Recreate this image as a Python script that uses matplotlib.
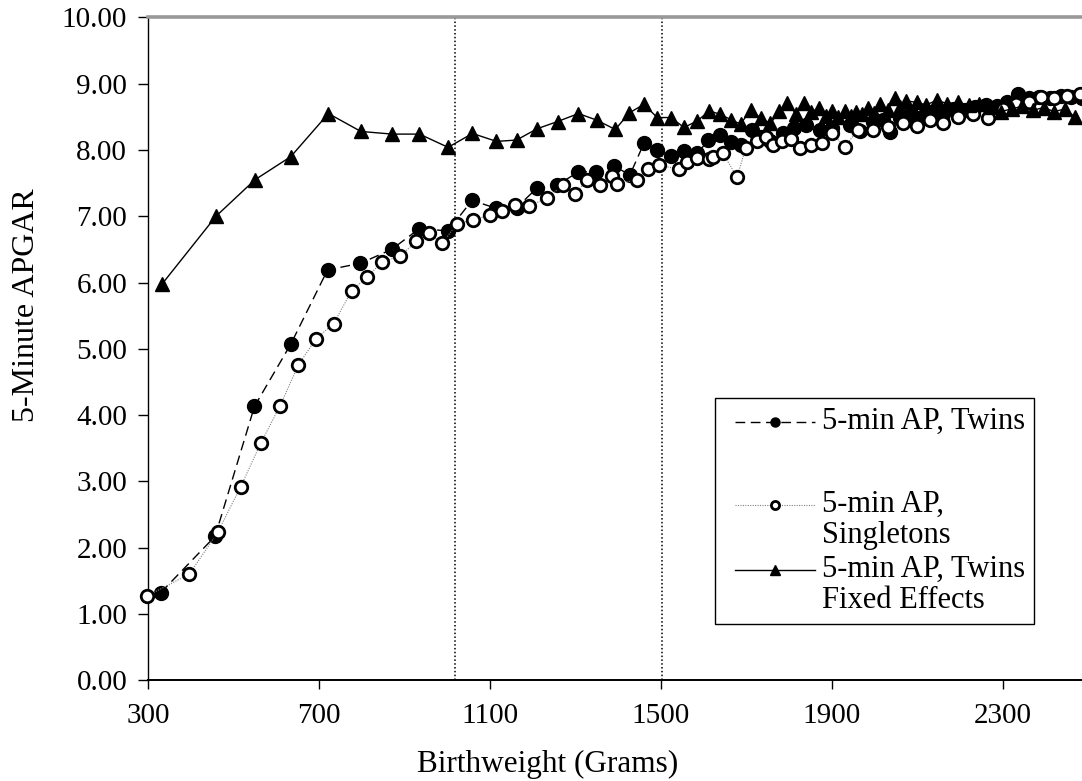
import numpy as np
import matplotlib
matplotlib.use("Agg")
import matplotlib.pyplot as plt
from matplotlib.ticker import FormatStrFormatter
from matplotlib.legend_handler import HandlerLine2D
from matplotlib.transforms import Affine2D

# Birthweight (grams) and mean 5-minute APGAR
twins_weight = [330, 457, 549, 634, 720, 797, 870, 934, 1002, 1058, 1114, 1162, 1209, 1257,
                1307, 1348, 1391, 1427, 1460, 1491, 1523, 1554, 1585, 1611, 1638, 1663, 1688,
                1714, 1735, 1755, 1786, 1810, 1840, 1872, 1900, 1942, 1966, 1997, 2020, 2036,
                2060, 2085, 2110, 2135, 2160, 2185, 2210, 2235, 2260, 2285, 2310, 2335, 2360,
                2385, 2410, 2435, 2460, 2485]
twins_apgar = [1.32, 2.17, 4.13, 5.07, 6.19, 6.29, 6.50, 6.81, 6.78, 7.24, 7.12, 7.13, 7.42, 7.47,
               7.67, 7.67, 7.76, 7.62, 8.10, 8.00, 7.91, 7.99, 7.95, 8.15, 8.23, 8.12, 8.07,
               8.30, 8.20, 8.13, 8.26, 8.33, 8.38, 8.30, 8.33, 8.38, 8.28, 8.42, 8.45, 8.27,
               8.48, 8.55, 8.50, 8.58, 8.55, 8.62, 8.60, 8.65, 8.68, 8.66, 8.72, 8.85, 8.78,
               8.80, 8.78, 8.82, 8.80, 8.78]

single_weight = [298, 397, 463, 517, 564, 609, 652, 693, 734, 776, 813, 848, 889, 928, 958, 988,
                 1023, 1060, 1099, 1129, 1159, 1192, 1233, 1270, 1299, 1326, 1357, 1385, 1398,
                 1444, 1470, 1496, 1543, 1560, 1585, 1613, 1622, 1644, 1678, 1698, 1724, 1745,
                 1763, 1784, 1805, 1824, 1850, 1876, 1900, 1930, 1960, 1995, 2030, 2065, 2098,
                 2130, 2160, 2195, 2230, 2266, 2300, 2330, 2360, 2390, 2420, 2450, 2480]
single_apgar = [1.27, 1.60, 2.23, 2.92, 3.58, 4.14, 4.76, 5.15, 5.38, 5.87, 6.09, 6.31, 6.40, 6.62,
                6.74, 6.59, 6.89, 6.94, 7.02, 7.08, 7.17, 7.16, 7.27, 7.47, 7.33, 7.55, 7.47, 7.60,
                7.49, 7.55, 7.71, 7.77, 7.71, 7.82, 7.88, 7.87, 7.89, 7.96, 7.59, 8.03, 8.14, 8.20,
                8.08, 8.14, 8.17, 8.03, 8.08, 8.11, 8.25, 8.05, 8.30, 8.30, 8.35, 8.40, 8.36,
                8.45, 8.41, 8.50, 8.55, 8.48, 8.62, 8.70, 8.72, 8.80, 8.78, 8.82, 8.85]

fe_weight = [332, 459, 550, 634, 722, 798, 871, 935, 1002, 1059, 1115, 1162, 1210, 1258, 1307,
             1350, 1393, 1426, 1460, 1491, 1523, 1554, 1585, 1613, 1638, 1663, 1686, 1710, 1733,
             1756, 1777, 1795, 1815, 1834, 1852, 1870, 1885, 1899, 1915, 1930, 1945, 1957, 1970,
             1984, 1998, 2012, 2030, 2047, 2060, 2074, 2098, 2120, 2145, 2170, 2195, 2220, 2245,
             2270, 2295, 2320, 2345, 2370, 2395, 2420, 2445, 2468]
fe_apgar = [5.97, 7.00, 7.55, 7.90, 8.55, 8.28, 8.24, 8.24, 8.04, 8.25, 8.13, 8.15, 8.32, 8.43, 8.55,
            8.45, 8.31, 8.56, 8.69, 8.49, 8.49, 8.34, 8.44, 8.59, 8.54, 8.46, 8.39, 8.61, 8.48,
            8.40, 8.59, 8.71, 8.55, 8.71, 8.58, 8.63, 8.52, 8.59, 8.50, 8.59, 8.52, 8.58, 8.55,
            8.64, 8.56, 8.69, 8.60, 8.78, 8.65, 8.74, 8.72, 8.68, 8.75, 8.70, 8.72, 8.68, 8.70,
            8.65, 8.58, 8.62, 8.66, 8.60, 8.64, 8.58, 8.62, 8.50]

cutoff_weights = [1018, 1503]
x_ticks = [300, 700, 1100, 1500, 1900, 2300]
y_ticks = [0, 1, 2, 3, 4, 5, 6, 7, 8, 9, 10]
legend_labels = ["5-min AP, Twins\n", "5-min AP,\nSingletons", "5-min AP, Twins\nFixed Effects"]


class TopLineHandler(HandlerLine2D):
    """Legend handle drawn level with the first line of a two-line label."""
    def __init__(self, dx, dy, **kwargs):
        super().__init__(**kwargs)
        self.dx = dx
        self.dy = dy

    def create_artists(self, legend, orig_handle, xdescent, ydescent, width, height, fontsize, trans):
        artists = super().create_artists(legend, orig_handle, xdescent, ydescent,
                                          width, height, fontsize, trans)
        for an_artist in artists:
            an_artist.set_transform(trans + Affine2D().translate(self.dx, self.dy))
        return artists


plt.rcParams["font.family"] = ["Liberation Serif", "DejaVu Serif"]

fig = plt.figure(figsize=(10.82, 7.81), dpi=100)
ax = fig.add_axes([0.1368, 0.1293, 0.8692, 0.8483])

for a_cut in cutoff_weights:
    ax.axvline(a_cut, color="black", lw=1.1, ls=(0, (1, 1.5)), zorder=1)

line_twins, = ax.plot(twins_weight, twins_apgar, color="black", lw=1.0, ls=(0, (7, 4)),
                      marker="o", ms=10, mfc="black", mec="black", clip_on=False, zorder=3)
line_single, = ax.plot(single_weight, single_apgar, color="#808080", lw=0.8, ls=(0, (1, 1.2)),
                       marker="o", ms=9, mfc="white", mec="black", mew=2.0, clip_on=False, zorder=4)
line_fe, = ax.plot(fe_weight, fe_apgar, color="black", lw=1.0, ls="-",
                   marker="^", ms=10.5, mfc="black", mec="black", clip_on=False, zorder=5)

ax.set_xlim(300, 2500)
ax.set_ylim(0, 10)
ax.set_xticks(x_ticks)
ax.set_yticks(y_ticks)
ax.yaxis.set_major_formatter(FormatStrFormatter("%.2f"))
ax.tick_params(axis="y", direction="out", length=7, width=1, pad=8, labelsize=21)
ax.tick_params(axis="x", direction="out", length=6.5, width=1, pad=10, labelsize=21)

ax.spines["right"].set_visible(False)
ax.spines["top"].set_color("#999999")
ax.spines["top"].set_linewidth(2.6)
ax.spines["left"].set_linewidth(1.0)
ax.spines["bottom"].set_linewidth(1.4)

ax.set_xlabel("Birthweight (Grams)", fontsize=22.5)
ax.xaxis.set_label_coords(0.4253, -0.128)
ax.xaxis.label.set_va("center")
ax.set_ylabel("5-Minute APGAR", fontsize=23)
ax.yaxis.set_label_coords(-0.1297, 0.566)
ax.yaxis.label.set_va("center")

handles = [line_twins, line_single, line_fe]
shifts = [24.5, 15, 15]
leg = ax.legend(handles, legend_labels,
                handler_map={h: TopLineHandler(11, s) for h, s in zip(handles, shifts)},
                loc="upper left", bbox_to_anchor=(715 / 1082, 1 - 398 / 781),
                bbox_transform=fig.transFigure, borderaxespad=0,
                prop={"family": "Liberation Serif", "size": 22},
                frameon=True, fancybox=False, edgecolor="black", framealpha=1.0,
                borderpad=0.3, handlelength=2.6, handletextpad=0.59, labelspacing=0.14,
                markerscale=0.65)
leg.get_frame().set_linewidth(1.0)
leg_texts = leg.get_texts()
leg_texts[0].set_linespacing(1.91)
leg_texts[1].set_linespacing(1.125)
leg_texts[2].set_linespacing(1.125)

fig.savefig("out.png", dpi=100, facecolor="w")
plt.close(fig)
